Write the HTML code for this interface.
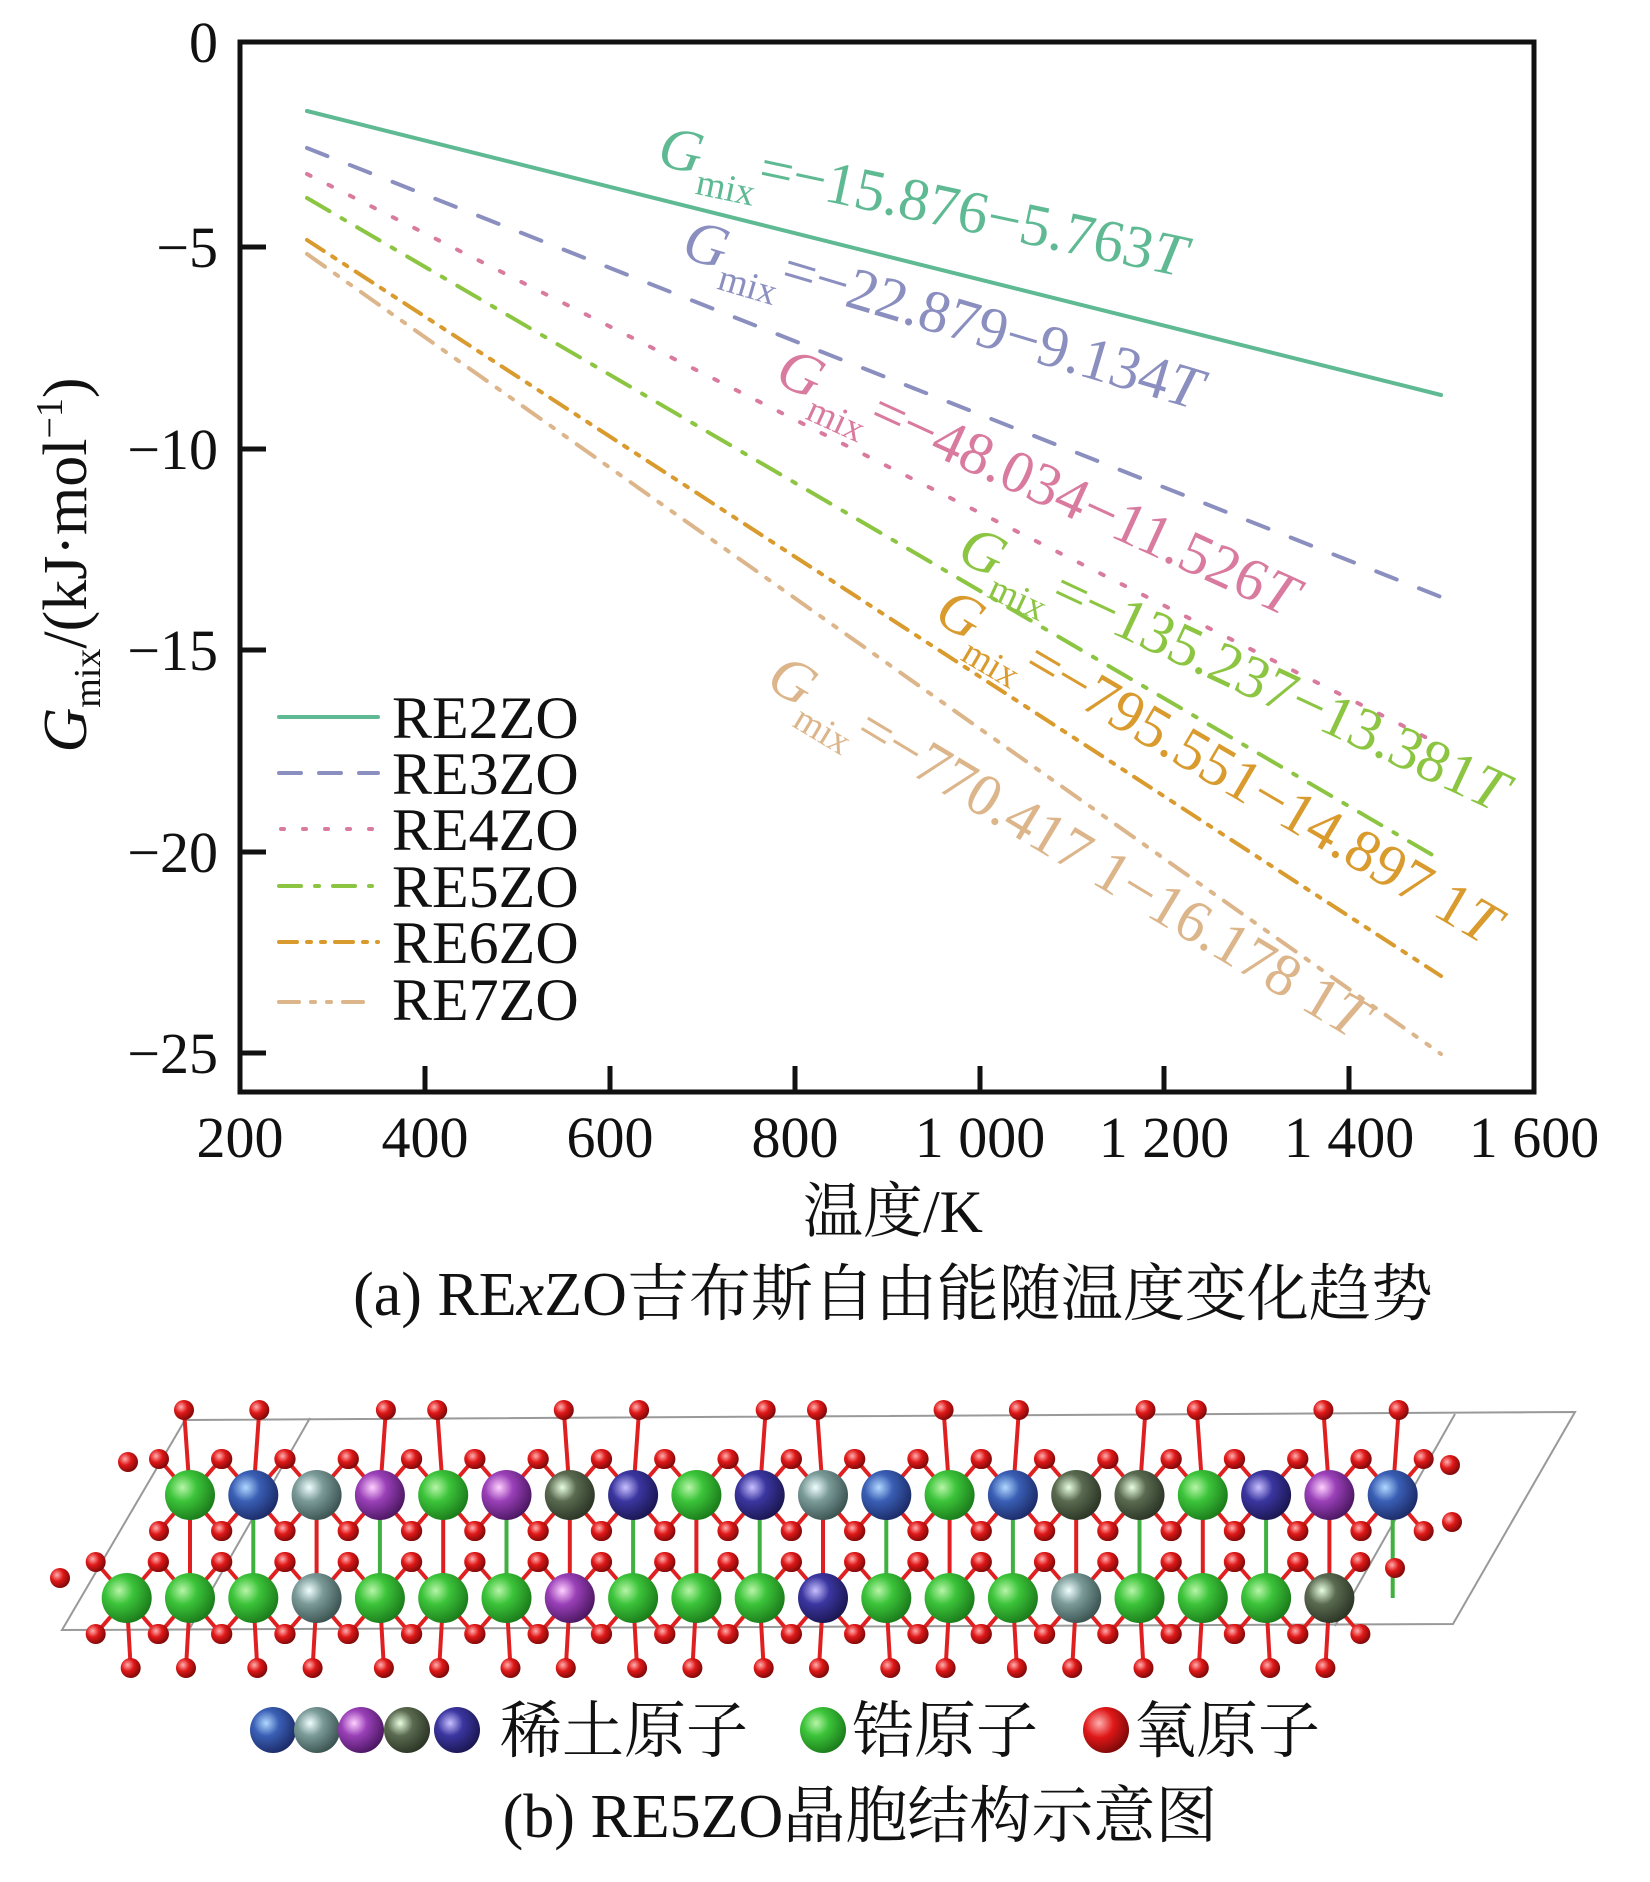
<!DOCTYPE html>
<html><head><meta charset="utf-8">
<style>
html,body{margin:0;padding:0;background:#fff;}
svg{display:block;}
text{font-family:"Liberation Serif","Noto Serif CJK SC",serif;}
</style></head>
<body>
<svg id="s" width="1650" height="1882" viewBox="0 0 1650 1882" xmlns="http://www.w3.org/2000/svg">
<defs>
<radialGradient id="gG" cx="0.35" cy="0.35" r="0.7"><stop offset="0" stop-color="#b8f5a8"/><stop offset="0.4" stop-color="#3cc43a"/><stop offset="1" stop-color="#1a7a1a"/></radialGradient>
<radialGradient id="gB" cx="0.35" cy="0.35" r="0.7"><stop offset="0" stop-color="#b0d8ff"/><stop offset="0.4" stop-color="#3a5fb5"/><stop offset="1" stop-color="#1b2a66"/></radialGradient>
<radialGradient id="gI" cx="0.35" cy="0.35" r="0.7"><stop offset="0" stop-color="#c8c0ff"/><stop offset="0.4" stop-color="#3b36a0"/><stop offset="1" stop-color="#1a1650"/></radialGradient>
<radialGradient id="gY" cx="0.35" cy="0.35" r="0.7"><stop offset="0" stop-color="#f0ffff"/><stop offset="0.4" stop-color="#7a9a98"/><stop offset="1" stop-color="#3a5250"/></radialGradient>
<radialGradient id="gP" cx="0.35" cy="0.35" r="0.7"><stop offset="0" stop-color="#ffd0ff"/><stop offset="0.4" stop-color="#9a40b8"/><stop offset="1" stop-color="#4a1660"/></radialGradient>
<radialGradient id="gO" cx="0.35" cy="0.35" r="0.7"><stop offset="0" stop-color="#e8ffe0"/><stop offset="0.4" stop-color="#5a6a50"/><stop offset="1" stop-color="#2a3424"/></radialGradient>
<radialGradient id="gR" cx="0.35" cy="0.35" r="0.7"><stop offset="0" stop-color="#ffb0b0"/><stop offset="0.45" stop-color="#e01818"/><stop offset="1" stop-color="#7a0808"/></radialGradient>
</defs>

<g fill="none" stroke-width="4" stroke-linecap="round">
<line x1="307" y1="111" x2="1441" y2="395" stroke="#5fba94"/>
<line x1="307" y1="148" x2="1441" y2="597" stroke="#8a8fbf" stroke-dasharray="22 24"/>
<line x1="307" y1="174" x2="1441" y2="745" stroke="#d97a9f" stroke-dasharray="4 20"/>
<line x1="307" y1="198" x2="1441" y2="860" stroke="#8cc542" stroke-dasharray="26 14 4 14"/>
<line x1="307" y1="240" x2="1441" y2="976" stroke="#d99a2e" stroke-dasharray="20 10 4 10 4 10"/>
<line x1="307" y1="254" x2="1441" y2="1054" stroke="#dcb58b" stroke-dasharray="22 12 4 12 4 12"/>
</g>

<rect x="240" y="42" width="1294" height="1050" fill="none" stroke="#111" stroke-width="5"/>
<g stroke="#111" stroke-width="5">
<line x1="240" y1="247" x2="266" y2="247"/>
<line x1="240" y1="449" x2="266" y2="449"/>
<line x1="240" y1="650" x2="266" y2="650"/>
<line x1="240" y1="852" x2="266" y2="852"/>
<line x1="240" y1="1053" x2="266" y2="1053"/>
<line x1="425" y1="1092" x2="425" y2="1066"/>
<line x1="610" y1="1092" x2="610" y2="1066"/>
<line x1="795" y1="1092" x2="795" y2="1066"/>
<line x1="980" y1="1092" x2="980" y2="1066"/>
<line x1="1164" y1="1092" x2="1164" y2="1066"/>
<line x1="1349" y1="1092" x2="1349" y2="1066"/>
</g>
<g font-size="58" fill="#111" text-anchor="end">
<text x="218" y="62">0</text>
<text x="218" y="267">−5</text>
<text x="218" y="469">−10</text>
<text x="218" y="670">−15</text>
<text x="218" y="872">−20</text>
<text x="218" y="1073">−25</text>
</g>
<g font-size="58" fill="#111" text-anchor="middle">
<text x="240" y="1157">200</text>
<text x="425" y="1157">400</text>
<text x="610" y="1157">600</text>
<text x="795" y="1157">800</text>
<text x="980" y="1157">1 000</text>
<text x="1164" y="1157">1 200</text>
<text x="1349" y="1157">1 400</text>
<text x="1534" y="1157">1 600</text>
</g>
<text x="893" y="1232" font-size="60" fill="#111" text-anchor="middle">温度/K</text>
<text x="893" y="1315" font-size="62" fill="#111" text-anchor="middle">(a) RE<tspan font-style="italic">x</tspan>ZO吉布斯自由能随温度变化趋势</text>
<text transform="translate(86,565) rotate(-90)" font-size="62" fill="#111" text-anchor="middle"><tspan font-style="italic">G</tspan><tspan font-size="38" dy="14">mix</tspan><tspan dy="-14">/(kJ·mol</tspan><tspan font-size="38" dy="-24">−1</tspan><tspan dy="24">)</tspan></text>

<g stroke-width="4" fill="none" stroke-linecap="round">
<line x1="279" y1="717" x2="378" y2="717" stroke="#5fba94"/>
<line x1="279" y1="773" x2="378" y2="773" stroke="#8a8fbf" stroke-dasharray="22 18"/>
<line x1="281" y1="829" x2="378" y2="829" stroke="#d97a9f" stroke-dasharray="3 19"/>
<line x1="279" y1="886" x2="372" y2="886" stroke="#8cc542" stroke-dasharray="22 14 4 14"/>
<line x1="279" y1="942" x2="378" y2="942" stroke="#d99a2e" stroke-dasharray="18 10 4 10 4 10"/>
<line x1="279" y1="1002" x2="375" y2="1002" stroke="#dcb58b" stroke-dasharray="20 12 4 12 4 12"/>
</g>
<g font-size="60" fill="#111">
<text x="392" y="738">RE2ZO</text>
<text x="392" y="794">RE3ZO</text>
<text x="392" y="850">RE4ZO</text>
<text x="392" y="907">RE5ZO</text>
<text x="392" y="963">RE6ZO</text>
<text x="392" y="1020">RE7ZO</text>
</g>

<g font-size="60">
<text transform="translate(656,165) rotate(12)" fill="#5fba94"><tspan font-style="italic">G</tspan><tspan font-size="38" dy="20">mix</tspan><tspan dy="-20">=−15.876−5.763</tspan><tspan font-style="italic">T</tspan></text>
<text transform="translate(680,257) rotate(16.5)" fill="#8a8fbf"><tspan font-style="italic">G</tspan><tspan font-size="38" dy="20">mix</tspan><tspan dy="-20">=−22.879−9.134</tspan><tspan font-style="italic">T</tspan></text>
<text transform="translate(773,382) rotate(24.6)" fill="#d97a9f"><tspan font-style="italic">G</tspan><tspan font-size="38" dy="20">mix</tspan><tspan dy="-20">=−48.034−11.526</tspan><tspan font-style="italic">T</tspan></text>
<text transform="translate(955,560) rotate(25)" fill="#8cc542"><tspan font-style="italic">G</tspan><tspan font-size="38" dy="20">mix</tspan><tspan dy="-20">=−135.237−13.381</tspan><tspan font-style="italic">T</tspan></text>
<text transform="translate(932,620) rotate(30.5)" fill="#d99a2e"><tspan font-style="italic">G</tspan><tspan font-size="38" dy="20">mix</tspan><tspan dy="-20">=−795.551−14.897 1</tspan><tspan font-style="italic">T</tspan></text>
<text transform="translate(764,686) rotate(31)" fill="#dcb58b"><tspan font-style="italic">G</tspan><tspan font-size="38" dy="20">mix</tspan><tspan dy="-20">=−770.417 1−16.178 1</tspan><tspan font-style="italic">T</tspan></text>
</g>

<g stroke="#999" stroke-width="2" fill="none">
<polygon points="185,1420 1575,1412 1453,1624 62,1630"/>
<line x1="310" y1="1418" x2="190" y2="1628"/>
<line x1="1455" y1="1414" x2="1335" y2="1626"/>
</g>
<g id="cr"></g>

<circle cx="273" cy="1730" r="23" fill="url(#gB)"/>
<circle cx="317" cy="1730" r="23" fill="url(#gY)"/>
<circle cx="361" cy="1730" r="23" fill="url(#gP)"/>
<circle cx="407" cy="1730" r="23" fill="url(#gO)"/>
<circle cx="457" cy="1730" r="23" fill="url(#gI)"/>
<text x="500" y="1752" font-size="62" fill="#111">稀土原子</text>
<circle cx="823" cy="1730" r="23" fill="url(#gG)"/>
<text x="852" y="1752" font-size="62" fill="#111">锆原子</text>
<circle cx="1106" cy="1730" r="23" fill="url(#gR)"/>
<text x="1134" y="1752" font-size="62" fill="#111">氧原子</text>
<text x="860" y="1837" font-size="62" fill="#111" text-anchor="middle">(b) RE5ZO晶胞结构示意图</text>
</svg>
<script>
(function(){
var g=document.getElementById('cr'),h='';
var top=['G','B','Y','P','G','P','O','I','G','I','Y','B','G','B','O','O','G','I','P','B'];
var bot=['G','G','G','Y','G','G','G','P','G','G','G','I','G','G','G','Y','G','G','G','O'];
var dx=63.3,x0=190,yT=1495,yB=1598;
function ln(a,b,c,d,col,w){h+='<line x1="'+a+'" y1="'+b+'" x2="'+c+'" y2="'+d+'" stroke="'+col+'" stroke-width="'+(w||4)+'"/>';}
function ball(x,y,r,k){h+='<circle cx="'+x+'" cy="'+y+'" r="'+r+'" fill="url(#g'+k+')"/>';}
var O=[];
for(var i=-1;i<20;i++){
 var x=x0+i*dx;
 [yT,yB].forEach(function(y,row){
  if(row==0&&i<0)return; if(row==1&&i>18)return;
  var a=[[x-31,y-36],[x+31,y-36],[x-31,y+36],[x+31,y+36]];
  a.forEach(function(p){ln(x,y,p[0],p[1],'#e02020',4);O.push(p);});
 });
}
for(var i=0;i<20;i++){var x=x0+i*dx;
 if(i%3!=2){ln(x+(i%2?6:-6),1410,x,yT,'#e02020',4);O.push([x+(i%2?6:-6),1410]);}
 ln(x,yT,x,yB,i%2?'#40b040':'#e02020',4);
}
for(var i=-1;i<19;i++){var x=x0+i*dx;
 ln(x,yB,x+(i%2?4:-4),1668,'#e02020',4);O.push([x+(i%2?4:-4),1668]);
}
for(var i=0;i<20;i++)ball(x0+i*dx,yT,25,top[i]);
for(var i=-1;i<19;i++)ball(x0+i*dx,yB,25,bot[i+1]);
O.forEach(function(p){ball(p[0],p[1],10,'R');});
ball(128,1462,10,'R');ball(1450,1465,10,'R');ball(1452,1522,10,'R');ball(60,1578,10,'R');ball(1395,1568,10,'R');
g.innerHTML=h;
})();
</script>
</body></html>
